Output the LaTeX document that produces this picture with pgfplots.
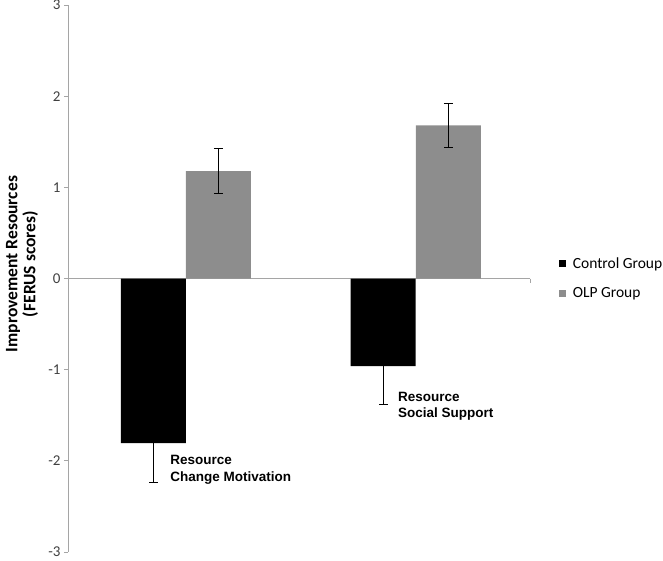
\documentclass[border=0pt]{standalone}
\usepackage{pgfplots}
\pgfplotsset{compat=1.18}
\usepackage{fontspec}
\setmainfont{Carlito}
\newfontfamily\arialfont{Liberation Sans}
\definecolor{olp}{RGB}{141,141,141}
\definecolor{axgray}{RGB}{165,165,165}
\definecolor{ticktext}{RGB}{64,64,64}
\begin{document}
\begin{tikzpicture}[x=1pt,y=1pt]
\useasboundingbox (0,0) rectangle (663,-560);
\begin{axis}[
  at={(68pt,-552pt)}, anchor=south west,
  scale only axis, width=462pt, height=547pt,
  xmin=0, xmax=2, ymin=-3, ymax=3,
  axis x line=none,
  axis y line=left,
  axis line style={-, axgray, line width=0.8pt},
  ytick={-3,-2,-1,0,1,2,3},
  ytick align=outside, major tick length=4pt,
  tick style={axgray, line width=0.8pt},
  yticklabel style={font=\fontsize{15}{17}\selectfont, text=ticktext},
  /pgf/number format/assume math mode=true,
  ylabel={Improvement Resources\\(FERUS scores)},
  ylabel style={at={(axis description cs:-0.0996,0.5265)}, anchor=center, align=center, font=\fontsize{17.5}{18}\selectfont\bfseries},
  legend style={at={(axis description cs:1.062,0.5)}, anchor=west, draw=none, fill=none,
    font=\fontsize{15.5}{17}\selectfont, row sep=14pt, inner sep=0pt, cells={anchor=west}},
  error bars/error bar style={black, line width=0.8pt},
  error bars/error mark options={rotate=90, mark size=4.5pt, black, line width=0.8pt},
  clip=false,
]
\addplot[axgray, line width=0.8pt, forget plot] coordinates {(0,0) (2,0)};
\addplot[axgray, line width=0.8pt, forget plot] coordinates {(2,0) (2,-0.045)};
\addplot[ybar, bar width=65pt, bar shift=0pt, fill=black, draw=none,
  error bars/.cd, y dir=minus, y explicit,
  /pgfplots/legend image code/.code={\fill[black] (0pt,-3.5pt) rectangle (7pt,3.5pt); \path (10pt,0pt);}]
  coordinates {(0.370,-1.807) +- (0,0.427) (1.364,-0.960) +- (0,0.419)};
\addlegendentry{Control Group}
\addplot[ybar, bar width=65pt, bar shift=0pt, fill=olp, draw=none,
  error bars/.cd, y dir=both, y explicit,
  /pgfplots/legend image code/.code={\fill[olp] (0pt,-3.5pt) rectangle (7pt,3.5pt); \path (12pt,0pt);}]
  coordinates {(0.651,1.178) +- (0,0.245) (1.647,1.679) +- (0,0.243)};
\addlegendentry{OLP Group}
\node[anchor=west, align=left, font=\arialfont\bfseries\fontsize{13.5}{16.5}\selectfont, inner sep=0pt]
  at (axis cs:0.442,-2.10) {Resource\\Change Motivation};
\node[anchor=west, align=left, font=\arialfont\bfseries\fontsize{13.5}{16.5}\selectfont, inner sep=0pt]
  at (axis cs:1.4286,-1.40) {Resource\\Social Support};
\end{axis}
\end{tikzpicture}
\end{document}
